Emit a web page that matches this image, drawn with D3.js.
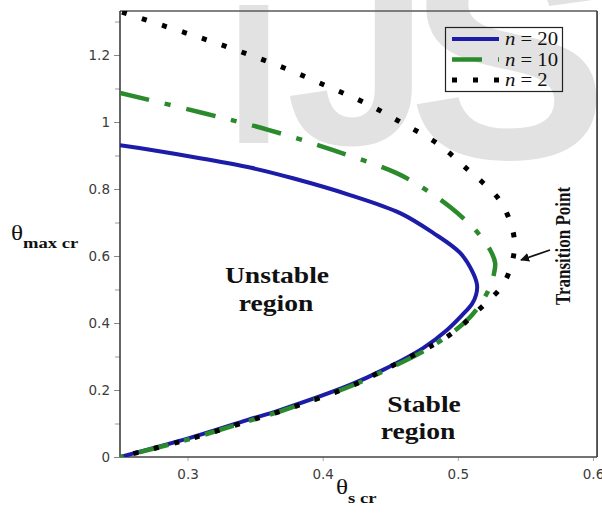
<!DOCTYPE html>
<html lang="en">
<head>
    <meta charset="UTF-8">
    <title>Theta max cr vs theta s cr</title>
    <script src="https://d3js.org/d3.v7.min.js"></script>
    <style>
        body { margin: 0; background: #fff; }
        svg { display: block; }
        .tick text { font-family: "DejaVu Sans", sans-serif; font-size: 13.5px; fill: #3c3c3c; }
        .serif { font-family: "Liberation Serif", "Times New Roman", serif; }
    </style>
</head>
<body>
<div id="chart"></div>
<script>
    // n = 20 (solid blue): theta_s cr and theta_max cr along the curve
    const sN20 = [0.25, 0.2722, 0.3092, 0.3462, 0.378, 0.4202, 0.4573, 0.4817, 0.5017, 0.5113, 0.5142, 0.5135, 0.5105, 0.5054, 0.492, 0.4743, 0.4447, 0.4202, 0.3684, 0.344, 0.3018, 0.25];
    const mN20 = [0.931, 0.917, 0.892, 0.864, 0.832, 0.782, 0.728, 0.669, 0.609, 0.549, 0.513, 0.484, 0.457, 0.433, 0.379, 0.325, 0.26, 0.215, 0.14, 0.11, 0.057, 0];

    // n = 10 (dash-dot green)
    const sN10 = [0.25, 0.3114, 0.3603, 0.4077, 0.4543, 0.4743, 0.4943, 0.5128, 0.5239, 0.5276, 0.5268, 0.5246, 0.5187, 0.5105, 0.5002, 0.4869, 0.4721, 0.4454, 0.421, 0.3692, 0.3447, 0.3018, 0.25];
    const mN10 = [1.087, 1.027, 0.976, 0.916, 0.848, 0.803, 0.746, 0.678, 0.618, 0.579, 0.549, 0.516, 0.469, 0.424, 0.385, 0.346, 0.31, 0.257, 0.212, 0.137, 0.107, 0.054, 0];

    // n = 2 (dotted black)
    const sN2 = [0.2515, 0.2848, 0.3144, 0.344, 0.3736, 0.4032, 0.4313, 0.4587, 0.4854, 0.5076, 0.5187, 0.5291, 0.5365, 0.5409, 0.542, 0.5409, 0.5387, 0.5328, 0.5224, 0.5113, 0.5017, 0.4883, 0.4743, 0.4454, 0.421, 0.3692, 0.3447, 0.3018, 0.25];
    const mN2 = [1.328, 1.284, 1.245, 1.203, 1.158, 1.107, 1.057, 0.997, 0.934, 0.857, 0.818, 0.776, 0.725, 0.672, 0.63, 0.594, 0.561, 0.51, 0.466, 0.424, 0.388, 0.349, 0.319, 0.26, 0.212, 0.137, 0.107, 0.054, 0];

    const xTicks = [0.3, 0.4, 0.5, 0.6];
    const yTicks = [0, 0.2, 0.4, 0.6, 0.8, 1, 1.2];
    const yMinorTicks = [0.1, 0.3, 0.5, 0.7, 0.9, 1.1, 1.3];
    const legendLabels = ["20", "10", "2"];

    const width = 602, height = 519;

    const svg = d3.select("#chart").append("svg")
        .attr("width", width)
        .attr("height", height);

    // faint watermark behind the chart
    const wm = svg.append("g")
        .attr("fill", "#e2e2e2")
        .style("font-family", "'Liberation Sans', Arial, sans-serif")
        .style("font-weight", "bold");
    wm.append("text").attr("x", 226).attr("y", 143).style("font-size", "200px").text("I");
    wm.append("text").attr("x", 286).attr("y", 144).style("font-size", "258px").text("J");
    wm.append("text").attr("x", 408).attr("y", 158).style("font-size", "300px").text("S");

    const x = d3.scaleLinear().domain([0.25, 0.6]).range([120, 593]);
    const y = d3.scaleLinear().domain([0, 1.2]).range([457, 55]);

    const xL = x(0.25), xR = x(0.603), yB = y(0), yT = y(1.331);

    svg.append("clipPath").attr("id", "plotClip")
        .append("rect")
        .attr("x", xL).attr("y", yT)
        .attr("width", xR - xL).attr("height", yB - yT);

    // axes
    const yAxis = svg.append("g")
        .attr("transform", `translate(${xL},0)`)
        .call(d3.axisLeft(y).tickValues(yTicks).tickSize(6).tickPadding(4)
            .tickFormat(d => String(+d.toFixed(1))));
    yAxis.select(".domain").remove();
    yAxis.selectAll(".tick line").attr("stroke", "#888");

    const yMinor = svg.append("g")
        .attr("transform", `translate(${xL},0)`)
        .call(d3.axisLeft(y).tickValues(yMinorTicks).tickSize(5).tickFormat(""));
    yMinor.select(".domain").remove();
    yMinor.selectAll(".tick line").attr("stroke", "#999");

    const xAxis = svg.append("g")
        .attr("transform", `translate(0,${yB})`)
        .call(d3.axisBottom(x).tickValues(xTicks).tickSize(4).tickPadding(8)
            .tickFormat(d => String(+d.toFixed(1))));
    xAxis.select(".domain").remove();
    xAxis.selectAll(".tick line").attr("stroke", "#aaa");

    // plot frame
    svg.append("line").attr("x1", xL).attr("x2", xR).attr("y1", yT).attr("y2", yT)
        .attr("stroke", "#5a5a5a").attr("stroke-width", 1.5);
    svg.append("line").attr("x1", xR).attr("x2", xR).attr("y1", yT).attr("y2", yB)
        .attr("stroke", "#222").attr("stroke-width", 1.5);
    svg.append("line").attr("x1", xL).attr("x2", xR).attr("y1", yB).attr("y2", yB)
        .attr("stroke", "#444").attr("stroke-width", 1.5);
    svg.append("line").attr("x1", xL).attr("x2", xL).attr("y1", yT).attr("y2", yB)
        .attr("stroke", "#333").attr("stroke-width", 1.5);

    // curves
    const line = d3.line()
        .x(d => x(d[0]))
        .y(d => y(d[1]))
        .curve(d3.curveCatmullRom.alpha(0.5));

    const series = [
        { s: sN20, m: mN20, color: "#1c1ca8", width: 4, dash: null },
        { s: sN10, m: mN10, color: "#2b8a2b", width: 4.5, dash: "30,16,6,16" },
        { s: sN2, m: mN2, color: "#000", width: 5, dash: "5,16" }
    ];

    const plot = svg.append("g").attr("clip-path", "url(#plotClip)");
    series.forEach(sr => {
        plot.append("path")
            .datum(d3.zip(sr.s, sr.m))
            .attr("d", line)
            .attr("fill", "none")
            .attr("stroke", sr.color)
            .attr("stroke-width", sr.width)
            .attr("stroke-dasharray", sr.dash);
    });

    // legend
    const legend = svg.append("g");
    legend.append("rect")
        .attr("x", 445.5).attr("y", 27.5).attr("width", 117).attr("height", 64)
        .attr("fill", "none")
        .attr("stroke", "#222").attr("stroke-width", 1.2);
    series.forEach((sr, i) => {
        const ly = 39 + i * 20.5;
        legend.append("line")
            .attr("x1", 452).attr("x2", 499).attr("y1", ly).attr("y2", ly)
            .attr("stroke", sr.color).attr("stroke-width", sr.width)
            .attr("stroke-dasharray", sr.dash);
        const t = legend.append("text")
            .attr("class", "serif")
            .attr("transform", `translate(505,${ly + 6}) scale(1.15,1)`)
            .style("font-size", "18px")
            .attr("fill", "#111");
        t.append("tspan").style("font-style", "italic").text("n");
        t.append("tspan").text(" = " + legendLabels[i]);
    });

    // helper for the slightly wide serif labels of the original figure
    function label(str, px, py, size) {
        return svg.append("text")
            .attr("class", "serif")
            .attr("transform", `translate(${px},${py}) scale(1.2,1)`)
            .attr("text-anchor", "middle")
            .style("font-size", size + "px")
            .style("font-weight", "bold")
            .attr("fill", "#111")
            .text(str);
    }

    label("Unstable", 277, 283, 23);
    label("region", 276, 311, 23);
    label("Stable", 424, 412, 23);
    label("region", 418, 439, 23);

    svg.append("text")
        .attr("class", "serif")
        .attr("transform", "translate(570,246) scale(1.2,1) rotate(-90)")
        .attr("text-anchor", "middle")
        .style("font-size", "17px")
        .style("font-weight", "bold")
        .attr("fill", "#111")
        .text("Transition Point");

    // arrow to the transition point
    svg.append("defs").append("marker")
        .attr("id", "arrowHead")
        .attr("viewBox", "0 0 10 10")
        .attr("refX", 9).attr("refY", 5)
        .attr("markerWidth", 5).attr("markerHeight", 5)
        .attr("orient", "auto")
        .append("path").attr("d", "M0,0 L10,5 L0,10 z").attr("fill", "#111");
    svg.append("line")
        .attr("x1", 550).attr("y1", 250).attr("x2", 521).attr("y2", 260)
        .attr("stroke", "#111").attr("stroke-width", 1.8)
        .attr("marker-end", "url(#arrowHead)");

    // axis titles
    const yTitle = svg.append("text")
        .attr("class", "serif")
        .attr("transform", "translate(11,240) scale(1.2,1)")
        .attr("fill", "#111");
    yTitle.append("tspan").style("font-size", "21px").text("θ");
    yTitle.append("tspan").attr("dy", 8).style("font-size", "15.5px").style("font-weight", "bold").text("max cr");

    const xTitle = svg.append("text")
        .attr("class", "serif")
        .attr("transform", "translate(336,494) scale(1.2,1)")
        .attr("fill", "#111");
    xTitle.append("tspan").style("font-size", "21px").text("θ");
    xTitle.append("tspan").attr("dy", 9).style("font-size", "15.5px").style("font-weight", "bold").text("s cr");
</script>
</body>
</html>
